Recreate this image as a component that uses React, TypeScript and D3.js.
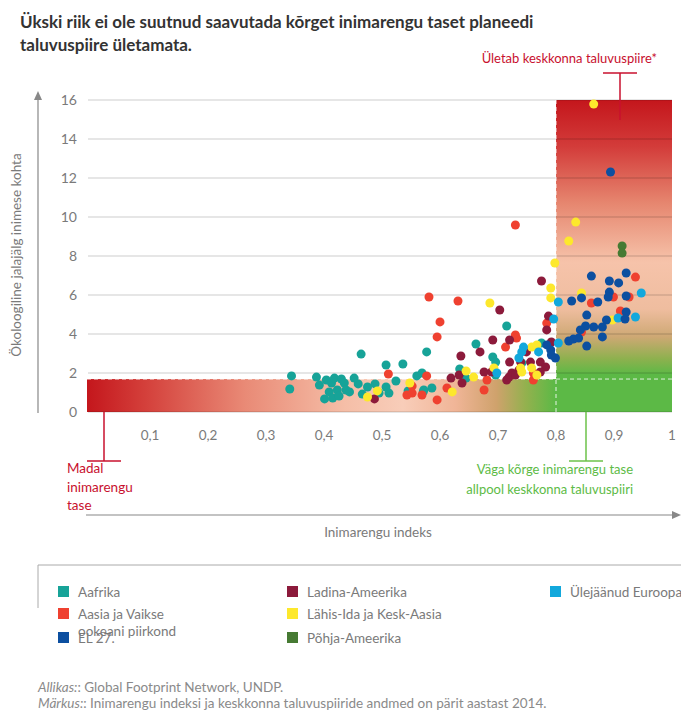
import * as d3 from 'd3';

type Pt = [number, number];

// Inimarengu indeks (HDI), ökoloogiline jalajälg (gha inimese kohta)
const aafrika: Pt[] = [
  [0.344, 1.85], [0.341, 1.18], [0.464, 2.97], [0.507, 2.41], [0.536, 2.46], [0.577, 3.08],
  [0.387, 1.79], [0.392, 1.38], [0.404, 1.64], [0.413, 1.49], [0.418, 1.74], [0.43, 1.69],
  [0.435, 1.49], [0.409, 1.03], [0.401, 0.67], [0.415, 0.72], [0.423, 1.13], [0.438, 1.13],
  [0.444, 1.03], [0.459, 1.44], [0.466, 0.92], [0.475, 1.28], [0.488, 1.44], [0.495, 0.97],
  [0.507, 1.28], [0.512, 0.97], [0.524, 1.59], [0.545, 1.08], [0.571, 1.03], [0.586, 1.23],
  [0.56, 1.85], [0.569, 2.0], [0.662, 3.49], [0.715, 4.41], [0.691, 2.82], [0.696, 2.56],
  [0.634, 2.21], [0.645, 1.74], [0.696, 1.9], [0.572, 1.13], [0.775, 3.54], [0.741, 2.51],
  [0.452, 1.74], [0.426, 0.82],
];
const aasia: Pt[] = [
  [0.511, 1.95], [0.552, 1.33], [0.543, 0.87], [0.569, 0.87], [0.577, 1.85], [0.595, 0.62],
  [0.581, 5.9], [0.631, 5.69], [0.6, 4.62], [0.595, 3.85], [0.713, 3.33], [0.73, 3.95],
  [0.732, 3.79], [0.681, 1.64], [0.676, 1.13], [0.612, 1.23], [0.552, 0.97], [0.73, 9.59],
  [0.784, 4.56], [0.861, 5.59], [0.899, 5.9], [0.937, 6.92], [0.926, 5.9], [0.911, 5.18],
  [0.844, 4.1], [0.761, 2.0], [0.761, 1.64],
];
const ladina: Pt[] = [
  [0.487, 0.67], [0.703, 5.23], [0.691, 3.69], [0.669, 3.08], [0.636, 2.87], [0.72, 3.69],
  [0.72, 2.56], [0.633, 1.9], [0.619, 1.74], [0.676, 2.05], [0.638, 1.49], [0.715, 1.64],
  [0.787, 4.92], [0.784, 4.21], [0.792, 3.59], [0.749, 3.08], [0.739, 2.56], [0.756, 2.56],
  [0.773, 2.56], [0.782, 2.31], [0.724, 2.0], [0.719, 1.79], [0.736, 2.15], [0.773, 2.05],
  [0.689, 2.05], [0.775, 6.72], [0.73, 1.9],
];
const lahisIda: Pt[] = [
  [0.475, 0.77], [0.492, 1.08], [0.548, 1.49], [0.686, 5.59], [0.693, 2.26], [0.645, 2.1],
  [0.658, 1.79], [0.621, 1.03], [0.758, 3.33], [0.767, 3.44], [0.739, 2.26], [0.741, 2.05],
  [0.758, 2.26], [0.767, 1.9], [0.834, 9.74], [0.822, 8.77], [0.798, 7.64], [0.791, 6.36],
  [0.791, 5.85], [0.844, 6.1], [0.897, 4.72], [0.865, 15.79],
];
const muuEuroopa: Pt[] = [
  [0.744, 3.33], [0.804, 3.54], [0.741, 3.08], [0.736, 2.77], [0.804, 5.64], [0.796, 4.77],
  [0.907, 4.82], [0.937, 4.87], [0.947, 6.1], [0.698, 2.0], [0.77, 3.08],
];
const el27: Pt[] = [
  [0.791, 3.18], [0.792, 2.92], [0.799, 2.77], [0.827, 5.69], [0.844, 5.85], [0.861, 6.97],
  [0.872, 5.64], [0.892, 6.72], [0.892, 6.15], [0.89, 5.9], [0.908, 6.62], [0.921, 7.13],
  [0.921, 5.95], [0.853, 4.97], [0.921, 5.13], [0.919, 4.77], [0.887, 4.72], [0.88, 4.36],
  [0.865, 4.36], [0.851, 4.41], [0.842, 4.21], [0.839, 3.79], [0.83, 3.74], [0.822, 3.64],
  [0.88, 3.85], [0.853, 3.38], [0.894, 12.31], [0.784, 3.44],
];
const pohjaAmeerika: Pt[] = [[0.914, 8.51], [0.914, 8.15]];

const xTicks = [0.1, 0.2, 0.3, 0.4, 0.5, 0.6, 0.7, 0.8, 0.9, 1];
const yTicks = [0, 2, 4, 6, 8, 10, 12, 14, 16];
const hdiThreshold = 0.8;
const footprintLimit = 1.69;

const series = [
  { name: 'Aafrika', color: '#17a398', data: aafrika },
  { name: 'Aasia ja Vaikse ookeani piirkond', color: '#ef4130', data: aasia },
  { name: 'Ladina-Ameerika', color: '#8c1a3b', data: ladina },
  { name: 'Lähis-Ida ja Kesk-Aasia', color: '#fde82c', data: lahisIda },
  { name: 'Ülejäänud Euroopa', color: '#12a8dc', data: muuEuroopa },
  { name: 'EL 27.', color: '#0c4fa0', data: el27 },
  { name: 'Põhja-Ameerika', color: '#467a33', data: pohjaAmeerika },
];

const font = 'Lato, "Open Sans", sans-serif';
const gray = '#7a7a7a';
const red = '#c8102e';
const green = '#5cb946';

export default function App() {
  const x = d3.scaleLinear().domain([0, 1]).range([92, 672]);
  const y = d3.scaleLinear().domain([0, 16]).range([412, 100]);
  const left = 87;
  const right = x(1);

  const legend = [
    { s: series[0], lx: 58, ly: 592 },
    { s: series[1], lx: 58, ly: 614 },
    { s: series[5], lx: 58, ly: 638 },
    { s: series[2], lx: 287, ly: 592 },
    { s: series[3], lx: 287, ly: 614 },
    { s: series[6], lx: 287, ly: 638 },
    { s: series[4], lx: 550, ly: 592 },
  ];

  return (
    <svg width={681} height={711} style={{ position: 'absolute', left: 0, top: 0 }} fontFamily={font}>
      <defs>
        <linearGradient id="lowBand" x1="0" x2="1" y1="0" y2="0">
          <stop offset="0" stopColor="#c4161c" />
          <stop offset="0.1" stopColor="#d4403b" />
          <stop offset="0.27" stopColor="#e98a76" />
          <stop offset="0.44" stopColor="#f5bea7" />
          <stop offset="0.54" stopColor="#f8cdb9" />
          <stop offset="0.63" stopColor="#f0b597" />
          <stop offset="0.7" stopColor="#cfa26c" />
          <stop offset="0.75" stopColor="#93b14e" />
          <stop offset="0.8" stopColor={green} />
          <stop offset="1" stopColor={green} />
        </linearGradient>
        <linearGradient id="highBox" x1="0" x2="0" y1="0" y2="1">
          <stop offset="0" stopColor="#c4161c" />
          <stop offset="0.15" stopColor="#d33c3a" />
          <stop offset="0.33" stopColor="#e6866f" />
          <stop offset="0.52" stopColor="#f6c3aa" />
          <stop offset="0.67" stopColor="#efbd9f" />
          <stop offset="0.76" stopColor="#cda873" />
          <stop offset="0.83" stopColor="#8db14e" />
          <stop offset="0.88" stopColor={green} />
          <stop offset="1" stopColor={green} />
        </linearGradient>
      </defs>

      {/* title */}
      <text x={20} y={28} fontSize={17} fontWeight="bold" fill="#333">
        Ükski riik ei ole suutnud saavutada kõrget inimarengu taset planeedi
      </text>
      <text x={20} y={51} fontSize={17} fontWeight="bold" fill="#333">
        taluvuspiire ületamata.
      </text>

      {/* background areas */}
      <rect x={left} y={y(footprintLimit)} width={right - left} height={y(0) - y(footprintLimit)} fill="url(#lowBand)" />
      <rect x={x(hdiThreshold)} y={y(16)} width={right - x(hdiThreshold)} height={y(0) - y(16)} fill="url(#highBox)" />

      {/* grid */}
      {yTicks.map(t => (
        <line key={t} x1={88} x2={right} y1={y(t)} y2={y(t)} stroke="rgba(0,0,0,0.2)" strokeWidth={1} />
      ))}
      <line x1={left} x2={right} y1={y(footprintLimit)} y2={y(footprintLimit)} stroke="#fff" strokeOpacity={0.8} strokeDasharray="4,3" />
      <line x1={x(hdiThreshold)} x2={x(hdiThreshold)} y1={y(0)} y2={y(16)} stroke="#fff" strokeOpacity={0.85} strokeDasharray="4,3" />

      {/* points */}
      {series.map(s => (
        <g key={s.name}>
          {s.data.map((d, i) => (
            <circle key={i} cx={x(d[0])} cy={y(d[1])} r={4.5} fill={s.color} />
          ))}
        </g>
      ))}

      {/* y axis */}
      <line x1={38} x2={38} y1={413} y2={98} stroke="#888" strokeWidth={1.2} />
      <path d="M38,91 L34,100 L42,100 Z" fill="#888" />
      {yTicks.map(t => (
        <text key={t} x={77} y={y(t) + 5} fontSize={14} fill={gray} textAnchor="end">{t}</text>
      ))}
      <text transform="translate(21,255) rotate(-90)" fontSize={13.5} fill={gray} textAnchor="middle">
        Ökoloogiline jalajälg inimese kohta
      </text>

      {/* x axis */}
      {xTicks.map(t => (
        <text key={t} x={x(t)} y={440} fontSize={13.5} fill={gray} textAnchor="middle">
          {String(t).replace('.', ',')}
        </text>
      ))}
      <line x1={86} x2={672} y1={515} y2={515} stroke="#888" strokeWidth={1.2} />
      <path d="M681,515 L672,511 L672,519 Z" fill="#888" />
      <text x={378} y={537} fontSize={13.5} fill={gray} textAnchor="middle">Inimarengu indeks</text>

      {/* annotations */}
      <text x={657} y={63} fontSize={13} fill={red} textAnchor="end">Ületab keskkonna taluvuspiire*</text>
      <line x1={603} x2={637} y1={73} y2={73} stroke={red} strokeWidth={1.5} />
      <line x1={620} x2={620} y1={73} y2={120} stroke={red} strokeWidth={1.5} />

      <line x1={104} x2={104} y1={412} y2={461} stroke={red} strokeWidth={1.5} />
      <line x1={87} x2={121} y1={461} y2={461} stroke={red} strokeWidth={1.5} />
      {['Madal', 'inimarengu', 'tase'].map((t, i) => (
        <text key={t} x={67} y={473 + i * 18.5} fontSize={13.5} fill={red}>{t}</text>
      ))}

      <line x1={586} x2={586} y1={412} y2={461} stroke="#6cc24a" strokeWidth={1.5} />
      <line x1={569} x2={603} y1={461} y2={461} stroke="#6cc24a" strokeWidth={1.5} />
      <text x={633} y={474} fontSize={13} fill="#5dbb46" textAnchor="end">Väga kõrge inimarengu tase</text>
      <text x={633} y={494} fontSize={13} fill="#5dbb46" textAnchor="end">allpool keskkonna taluvuspiiri</text>

      {/* legend */}
      <line x1={38} x2={681} y1={565} y2={565} stroke="#aaa" />
      <line x1={38} x2={38} y1={565} y2={608} stroke="#aaa" />
      {legend.map(({ s, lx, ly }) => (
        <g key={s.name}>
          <rect x={lx} y={ly - 6} width={11} height={11} fill={s.color} />
          {s.name === 'Aasia ja Vaikse ookeani piirkond' ? (
            <>
              <text x={lx + 20} y={ly + 5} fontSize={13.5} fill={gray}>Aasia ja Vaikse</text>
              <text x={lx + 20} y={ly + 22} fontSize={13.5} fill={gray}>ookeani piirkond</text>
            </>
          ) : (
            <text x={lx + 20} y={ly + 5} fontSize={13.5} fill={gray}>{s.name}</text>
          )}
        </g>
      ))}

      {/* footer */}
      <text x={38} y={692} fontSize={13.5} fill="#8a8a8a">
        <tspan fontStyle="italic">Allikas:</tspan>: Global Footprint Network, UNDP.
      </text>
      <text x={38} y={708} fontSize={13.5} fill="#8a8a8a">
        <tspan fontStyle="italic">Märkus:</tspan>: Inimarengu indeksi ja keskkonna taluvuspiiride andmed on pärit aastast 2014.
      </text>
    </svg>
  );
}
